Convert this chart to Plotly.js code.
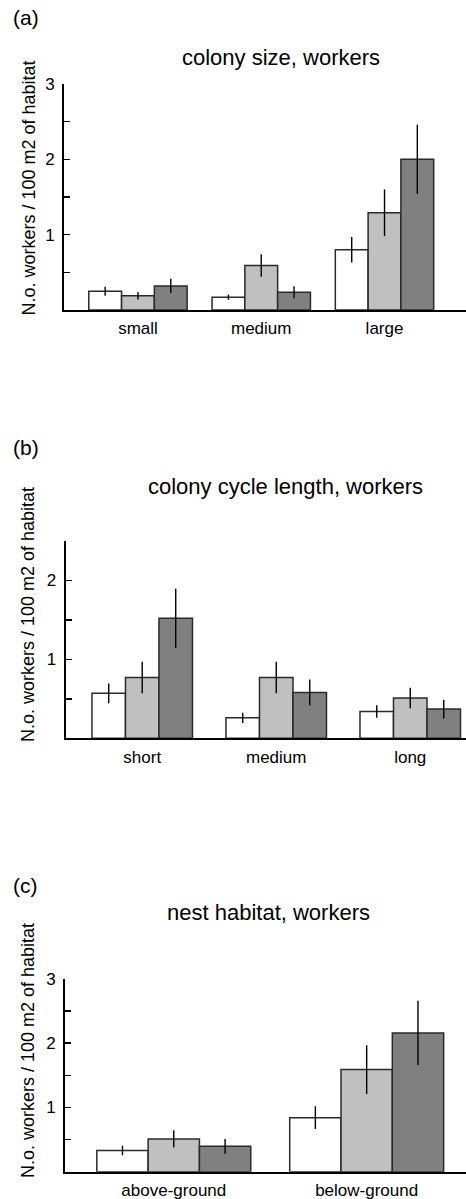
<!DOCTYPE html>
<html>
<head>
<meta charset="utf-8">
<script src="https://cdn.plot.ly/plotly-3.0.1.min.js"></script>
<style>html,body{margin:0;padding:0;background:#fff;}#chart{width:466px;height:1199px;}</style>
</head>
<body>
<div id="chart"></div>
<script>
// ---- data ----
const categoriesA = ['small', 'medium', 'large'];
const aWhite = [0.25, 0.17, 0.80];
const aWhiteErr = [0.06, 0.035, 0.17];
const aLight = [0.19, 0.59, 1.29];
const aLightErr = [0.05, 0.15, 0.31];
const aDark = [0.32, 0.235, 2.00];
const aDarkErr = [0.095, 0.08, 0.46];

const categoriesB = ['short', 'medium', 'long'];
const bWhite = [0.57, 0.26, 0.34];
const bWhiteErr = [0.125, 0.065, 0.08];
const bLight = [0.77, 0.77, 0.51];
const bLightErr = [0.20, 0.20, 0.13];
const bDark = [1.52, 0.58, 0.37];
const bDarkErr = [0.375, 0.165, 0.12];

const categoriesC = ['above-ground', 'below-ground'];
const cWhite = [0.33, 0.84];
const cWhiteErr = [0.073, 0.177];
const cLight = [0.51, 1.59];
const cLightErr = [0.135, 0.38];
const cDark = [0.395, 2.16];
const cDarkErr = [0.114, 0.50];

const panelTitles = ['colony size, workers', 'colony cycle length, workers', 'nest habitat, workers'];
const panelLabels = ['(a)', '(b)', '(c)'];
const yTitle = 'N.o. workers / 100 m2 of habitat';

// ---- styling ----
const FONT = 'Liberation Sans, Arial, Helvetica, sans-serif';
const fills = ['#ffffff', '#c0c0c0', '#808080'];
const W = 466, H = 1199;
const py = p => 1 - p / H;
const px = p => p / W;

function bars(cats, series, errs, xa, ya, w) {
  return series.map((s, i) => ({
    type: 'bar', x: cats, y: s, xaxis: xa, yaxis: ya,
    width: w, offset: -1.5 * w + i * w,
    marker: {color: fills[i], line: {color: '#2a2a2a', width: 1.5}},
    error_y: {type: 'data', array: errs[i], visible: true, width: 0, thickness: 1.4, color: '#000'},
    showlegend: false, hoverinfo: 'x+y'
  }));
}

const data = [
  ...bars(categoriesA, [aWhite, aLight, aDark], [aWhiteErr, aLightErr, aDarkErr], 'x', 'y', 0.266),
  ...bars(categoriesB, [bWhite, bLight, bDark], [bWhiteErr, bLightErr, bDarkErr], 'x2', 'y2', 0.25),
  ...bars(categoriesC, [cWhite, cLight, cDark], [cWhiteErr, cLightErr, cDarkErr], 'x3', 'y3', 0.266)
];

function xax(domL, range) {
  return {domain: [domL, 1], range: range, type: 'category', showline: true, linewidth: 2, linecolor: '#000',
    ticks: '', showgrid: false, zeroline: false, tickfont: {family: FONT, size: 17, color: '#000'},
    ticklabelstandoff: 2, fixedrange: true};
}
function yax(dom, top, anchor) {
  const vals = [], txt = [];
  for (let v = 0.5; v <= top + 1e-9; v += 0.5) { vals.push(v); txt.push(Number.isInteger(v) ? String(v) : ''); }
  return {domain: dom, range: [0, top], showline: true, linewidth: 2, linecolor: '#000', anchor: anchor,
    ticks: 'inside', ticklen: 6, tickwidth: 1.5, tickcolor: '#000', tickvals: vals, ticktext: txt,
    showgrid: false, zeroline: false, tickfont: {family: FONT, size: 17, color: '#000'},
    ticklabelstandoff: 4, fixedrange: true};
}

const ann = [];
const titlePos = [[281, 57], [285, 487], [268, 912]];
const labelPos = [[11, 18], [11, 447], [11, 885]];
const yTitlePos = [[28, 188.5], [28, 615], [28, 1051]];
for (let i = 0; i < 3; i++) {
  ann.push({text: panelTitles[i], x: px(titlePos[i][0]), y: py(titlePos[i][1]), xref: 'paper', yref: 'paper',
    xanchor: 'center', yanchor: 'middle', showarrow: false, font: {family: FONT, size: 22, color: '#000'}});
  ann.push({text: panelLabels[i], x: px(labelPos[i][0]), y: py(labelPos[i][1]), xref: 'paper', yref: 'paper',
    xanchor: 'left', yanchor: 'middle', showarrow: false, font: {family: FONT, size: 21, color: '#000'}});
  ann.push({text: yTitle, x: px(yTitlePos[i][0]), y: py(yTitlePos[i][1]), xref: 'paper', yref: 'paper',
    xanchor: 'center', yanchor: 'middle', textangle: -90, showarrow: false,
    font: {family: FONT, size: 18, color: '#000'}});
}

const layout = {
  width: W, height: H, margin: {l: 0, r: 0, t: 0, b: 0},
  paper_bgcolor: '#fff', plot_bgcolor: '#fff', barmode: 'overlay', showlegend: false,
  xaxis: xax(px(64), [-0.600, 2.661]),
  yaxis: yax([py(310), py(84)], 3, 'x'),
  xaxis2: xax(px(65.7), [-0.571, 2.416]),
  yaxis2: yax([py(738.3), py(541)], 2.5, 'x2'),
  xaxis3: xax(px(65), [-0.564, 1.515]),
  yaxis3: yax([py(1171.7), py(979)], 3, 'x3'),
  annotations: ann
};
layout.xaxis.anchor = 'y';
layout.xaxis2.anchor = 'y2';
layout.xaxis3.anchor = 'y3';

Plotly.newPlot('chart', data, layout, {displayModeBar: false, staticPlot: true});
</script>
</body>
</html>
